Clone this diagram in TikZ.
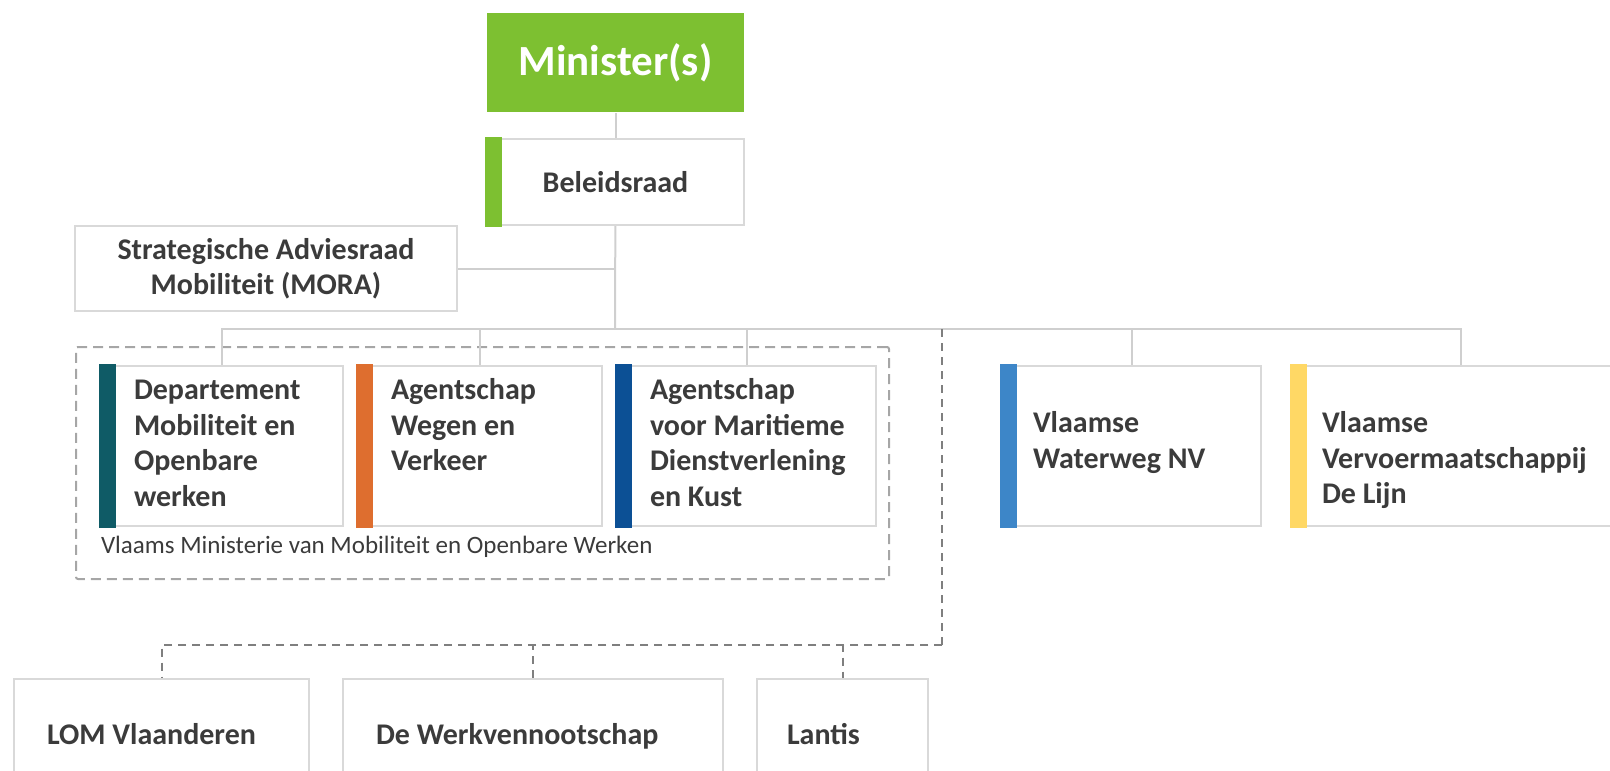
\documentclass[tikz,border=0pt]{standalone}
\usepackage{fontspec}
\setmainfont{Carlito}
\usetikzlibrary{positioning}

\definecolor{mingreen}{HTML}{7DC031}
\definecolor{depteal}{HTML}{0F5B66}
\definecolor{awvorange}{HTML}{DE6E2F}
\definecolor{mdkblue}{HTML}{0C5095}
\definecolor{vwwblue}{HTML}{3D86C8}
\definecolor{lijnyellow}{HTML}{FFD865}
\definecolor{boxgray}{HTML}{D9D9D9}
\definecolor{linegray}{HTML}{CFCFCF}
\definecolor{groupgray}{HTML}{A6A6A6}
\definecolor{dashgray}{HTML}{7F7F7F}
\definecolor{txtgray}{HTML}{3B3B3B}

\begin{document}
\begin{tikzpicture}[x=1pt,y=-1pt,line width=2pt,text=txtgray,font=\fontsize{30}{35.5}\selectfont\bfseries]
	\tikzstyle{orgbox}=[draw=boxgray,fill=white,anchor=north west,inner sep=0pt,minimum height=160pt]
	\tikzstyle{orgtext}=[anchor=north west,align=left,inner sep=0pt]
	\tikzstyle{link}=[draw=linegray]
	\tikzstyle{dlink}=[draw=dashgray,dash pattern=on 8pt off 6pt]

	\clip (0,0) rectangle (1610,771);

	% top of the chart
	\node[fill=mingreen,text=white,inner sep=0pt,minimum width=257pt,minimum height=99pt,font=\fontsize{43}{50}\selectfont\bfseries] (minister) at (615.5,62.5) {Minister(s)};
	\node[orgbox,anchor=center,minimum width=257pt,minimum height=86pt] (beleid) at (615.5,182) {Beleidsraad};
	\node[orgbox,anchor=center,align=center,minimum width=382pt,minimum height=85pt] (mora) at (266,268.5) {Strategische Adviesraad\\Mobiliteit (MORA)};

	% ministry
	\node[draw=groupgray,dash pattern=on 10pt off 6pt,rounded corners=2pt,anchor=north west,inner sep=0pt,minimum width=813pt,minimum height=232pt] (vmow) at (75,346) {};
	\node[anchor=west,inner sep=0pt,font=\fontsize{25}{30}\selectfont] (vmow-t) at (100,547) {Vlaams Ministerie van Mobiliteit en Openbare Werken};

	\node[orgbox,minimum width=242pt] (dep) at (100,365) {};
	\node[orgbox,minimum width=244pt] (awv) at (357,365) {};
	\node[orgbox,minimum width=259pt] (mdk) at (616,365) {};
	\node[orgbox,minimum width=259pt] (vww) at (1001,365) {};
	\node[orgbox,minimum width=338pt] (lijn) at (1291,365) {};

	\foreach \u/\c in {beleid/mingreen,dep/depteal,awv/awvorange,mdk/mdkblue,vww/vwwblue,lijn/lijnyellow}
		\fill[\c] ([xshift=-1pt,yshift=1pt]\u.north west) rectangle ([xshift=16pt,yshift=-1pt]\u.south west);

	\node[orgtext] (dep-t) at ([xshift=33pt,yshift=-9pt]dep.north west) {\strut Departement\\Mobiliteit en\\Openbare\\werken};
	\node[orgtext] (awv-t) at ([xshift=33pt,yshift=-9pt]awv.north west) {\strut Agentschap\\Wegen en\\Verkeer};
	\node[orgtext] (mdk-t) at ([xshift=33pt,yshift=-9pt]mdk.north west) {\strut Agentschap\\voor Maritieme\\Dienstverlening\\en Kust};
	\node[orgtext] (vww-t) at ([xshift=31pt,yshift=-42pt]vww.north west) {\strut Vlaamse\\Waterweg NV};
	\node[orgtext] (lijn-t) at ([xshift=30pt,yshift=-42pt]lijn.north west) {\strut Vlaamse\\Vervoermaatschappij\\De Lijn};

	% bottom row
	\node[orgbox,minimum width=295pt,minimum height=114pt] (lom) at (13,678) {};
	\node[orgbox,minimum width=380pt,minimum height=114pt] (wvs) at (342,678) {};
	\node[orgbox,minimum width=171pt,minimum height=114pt] (lantis) at (756,678) {};
	\node[anchor=base west,inner sep=0pt] (lom-t) at (46,744) {LOM Vlaanderen};
	\node[anchor=base west,inner sep=0pt] (wvs-t) at (375,744) {De Werkvennootschap};
	\node[anchor=base west,inner sep=0pt] (lantis-t) at (786,744) {Lantis};

	% connectors
	\coordinate (hub) at (615,329);
	\coordinate (fork) at (942,329);
	\coordinate (knee) at (942,645);

	\draw[link] (minister) -- (beleid);
	\draw[link] (beleid) -- (hub);
	\draw[link] (mora) -- (mora -| hub);
	\foreach \u in {dep,awv,mdk,vww,lijn}
		\draw[link] (hub) -| (\u.north);

	\draw[dlink] (fork) -- (knee);
	\foreach \u in {lom,wvs,lantis}
		\draw[dlink] (knee) -| (\u.north);
\end{tikzpicture}
\end{document}
